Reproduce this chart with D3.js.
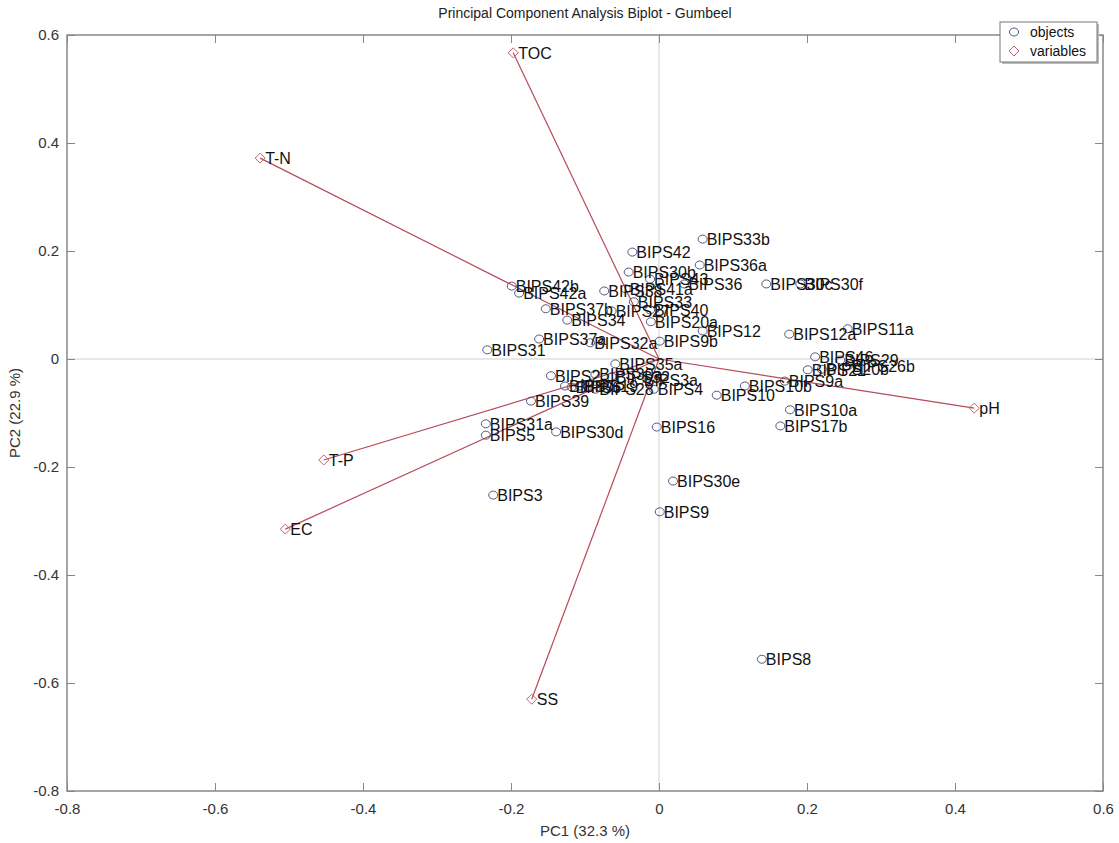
<!DOCTYPE html>
<html><head><meta charset="utf-8">
<script src="https://cdn.jsdelivr.net/npm/d3@7"></script>
<style>body{margin:0;background:#fff;} text{font-family:Arial,"Liberation Sans",sans-serif;}</style>
</head><body>
<svg id="c" width="1119" height="843"></svg>
<script>
const objNames = ["BIPS33b","BIPS42","BIPS36a","BIPS30b","BIPS43","BIPS36","BIPS30c","BIPS30f","BIPS42b","BIPS42a","BIPS38","BIPS41a","BIPS33","BIPS40","BIPS37b","BIPS27","BIPS34","BIPS20a","BIPS12","BIPS37a","BIPS32a","BIPS9b","BIPS31","BIPS12a","BIPS11a","BIPS46","BIPS29","BIPS21","BIPS20b","BIPS26b","BIPS9a","BIPS10b","BIPS10","BIPS10a","BIPS17b","BIPS35a","BIPS2","BIPS30a","BIPS32","BIPS3a","BIPS7","BIPS6","BIPS19","BIPS28","BIPS4","BIPS39","BIPS31a","BIPS5","BIPS30d","BIPS16","BIPS30e","BIPS3","BIPS9","BIPS8"];
const objPC1 = [0.059,-0.036,0.055,-0.041,-0.012,0.034,0.145,0.191,-0.199,-0.189,-0.074,-0.045,-0.034,-0.012,-0.153,-0.064,-0.124,-0.011,0.059,-0.162,-0.093,0.001,-0.232,0.176,0.255,0.211,0.245,0.201,0.220,0.255,0.170,0.116,0.078,0.177,0.164,-0.059,-0.146,-0.086,-0.064,-0.026,-0.127,-0.118,-0.107,-0.086,-0.007,-0.173,-0.234,-0.234,-0.139,-0.003,0.019,-0.224,0.001,0.139];
const objPC2 = [0.222,0.198,0.174,0.161,0.148,0.139,0.139,0.139,0.135,0.122,0.126,0.130,0.106,0.091,0.093,0.089,0.072,0.069,0.052,0.037,0.030,0.033,0.017,0.046,0.056,0.004,-0.002,-0.020,-0.019,-0.013,-0.041,-0.050,-0.067,-0.094,-0.124,-0.009,-0.031,-0.028,-0.033,-0.039,-0.050,-0.052,-0.050,-0.056,-0.056,-0.078,-0.120,-0.141,-0.135,-0.126,-0.226,-0.252,-0.283,-0.556];
const varNames = ["TOC","T-N","T-P","EC","SS","pH"];
const varPC1 = [-0.197,-0.539,-0.453,-0.505,-0.172,0.426];
const varPC2 = [0.567,0.372,-0.187,-0.315,-0.630,-0.091];
const xTicks = [-0.8,-0.6,-0.4,-0.2,0,0.2,0.4,0.6];
const yTicks = [-0.8,-0.6,-0.4,-0.2,0,0.2,0.4,0.6];
const xTickLabels = ["-0.8","-0.6","-0.4","-0.2","0","0.2","0.4","0.6"];
const yTickLabels = ["-0.8","-0.6","-0.4","-0.2","0","0.2","0.4","0.6"];

const svg = d3.select("#c");
const L=67,T=35,R=1103,B=791;
const x = d3.scaleLinear().domain([-0.8,0.6]).range([L,R]);
const y = d3.scaleLinear().domain([-0.8,0.6]).range([B,T]);

// crosshair
svg.append("line").attr("x1",x(0)).attr("x2",x(0)).attr("y1",T).attr("y2",B).attr("stroke","#d0d0d0").attr("stroke-width",1);
svg.append("line").attr("x1",L).attr("x2",R).attr("y1",y(0)).attr("y2",y(0)).attr("stroke","#d0d0d0").attr("stroke-width",1);

// axes
const ax = svg.append("g").attr("transform",`translate(0,${B})`).call(d3.axisBottom(x).tickValues(xTicks).tickFormat((d,i)=>xTickLabels[i]).tickSizeInner(-8).tickSizeOuter(0).tickPadding(12));
const ay = svg.append("g").attr("transform",`translate(${L},0)`).call(d3.axisLeft(y).tickValues(yTicks).tickFormat((d,i)=>yTickLabels[i]).tickSizeInner(-8).tickSizeOuter(0).tickPadding(8));
const axT = svg.append("g").attr("transform",`translate(0,${T})`).call(d3.axisTop(x).tickValues(xTicks).tickFormat("").tickSizeInner(-8).tickSizeOuter(0));
const ayR = svg.append("g").attr("transform",`translate(${R},0)`).call(d3.axisRight(y).tickValues(yTicks).tickFormat("").tickSizeInner(-8).tickSizeOuter(0));
[ax,ay,axT,ayR].forEach(g=>{
  g.select(".domain").remove();
  g.selectAll("line").attr("stroke","#888");
  g.selectAll("text").attr("font-size",15).attr("fill","#333").attr("font-family","Arial");
});
svg.append("rect").attr("x",L).attr("y",T).attr("width",R-L).attr("height",B-T).attr("fill","none").attr("stroke","#888").attr("stroke-width",1.5);

// variable vectors
const vars = varNames.map((n,i)=>({n,px:varPC1[i],py:varPC2[i]}));
svg.append("g").selectAll("line").data(vars).join("line")
  .attr("x1",x(0)).attr("y1",y(0)).attr("x2",d=>x(d.px)).attr("y2",d=>y(d.py))
  .attr("stroke","#b84a5a").attr("stroke-width",1.2);
svg.append("g").selectAll("path").data(vars).join("path")
  .attr("d",d=>{const cx=x(d.px),cy=y(d.py);return `M${cx-5},${cy}L${cx},${cy-5}L${cx+5},${cy}L${cx},${cy+5}Z`;})
  .attr("fill","none").attr("stroke","#c86070").attr("stroke-width",1);
svg.append("g").selectAll("text").data(vars).join("text")
  .attr("x",d=>x(d.px)+5).attr("y",d=>y(d.py)).attr("dy","0.36em")
  .attr("font-size",16).attr("fill","#111").text(d=>d.n);

// objects
const objs = objNames.map((n,i)=>({n,px:objPC1[i],py:objPC2[i]}));
svg.append("g").selectAll("ellipse").data(objs).join("ellipse")
  .attr("cx",d=>x(d.px)).attr("cy",d=>y(d.py)).attr("rx",4.5).attr("ry",4)
  .attr("fill","none").attr("stroke","#555580").attr("stroke-width",1);
svg.append("g").selectAll("text").data(objs).join("text")
  .attr("x",d=>x(d.px)+4).attr("y",d=>y(d.py)).attr("dy","0.36em")
  .attr("font-size",16).attr("fill","#111").text(d=>d.n);

// title & labels
svg.append("text").attr("x",585).attr("y",18).attr("text-anchor","middle").attr("font-size",14).attr("fill","#222").text("Principal Component Analysis Biplot - Gumbeel");
svg.append("text").attr("x",585).attr("y",836).attr("text-anchor","middle").attr("font-size",15).attr("fill","#333").text("PC1  (32.3 %)");
svg.append("text").attr("transform","translate(20,413) rotate(-90)").attr("text-anchor","middle").attr("font-size",15).attr("fill","#333").text("PC2  (22.9 %)");

// legend
const lg = svg.append("g").attr("transform","translate(1000,22)");
lg.append("rect").attr("x",2).attr("y",2).attr("width",97).attr("height",40).attr("fill","#bbb");
lg.append("rect").attr("x",0).attr("y",0).attr("width",97).attr("height",40).attr("fill","#fff").attr("stroke","#777").attr("stroke-width",1);
lg.append("ellipse").attr("cx",14).attr("cy",10).attr("rx",4.5).attr("ry",4).attr("fill","none").attr("stroke","#555580");
lg.append("path").attr("d","M9,29L14,24L19,29L14,34Z").attr("fill","none").attr("stroke","#c86070");
lg.append("text").attr("x",30).attr("y",10).attr("dy","0.36em").attr("font-size",14).attr("fill","#111").text("objects");
lg.append("text").attr("x",30).attr("y",29).attr("dy","0.36em").attr("font-size",14).attr("fill","#111").text("variables");
</script>
</body></html>
